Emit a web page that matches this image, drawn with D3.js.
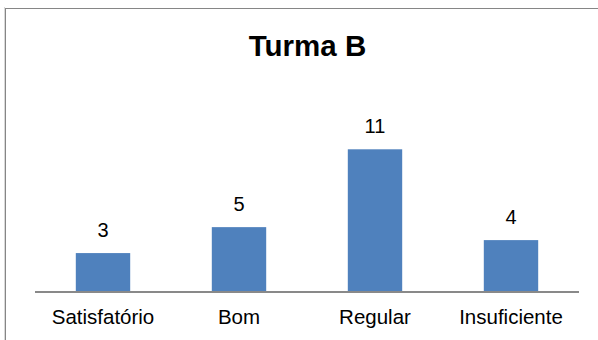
<!DOCTYPE html>
<html>
<head>
<meta charset="utf-8">
<script src="https://cdn.jsdelivr.net/npm/d3@7"></script>
<style>
  html, body { margin: 0; padding: 0; background: #fff; }
  svg { display: block; }
</style>
</head>
<body>
<svg id="chart" width="598" height="340"></svg>
<script>
// Turma B — distribution of grades
const title = "Turma B";
const categories = ["Satisfatório", "Bom", "Regular", "Insuficiente"];
const values = [3, 5, 11, 4];

const W = 598, H = 340;
const svg = d3.select("#chart");
const font = "Arial, 'Liberation Sans', Helvetica, sans-serif";

// chart frame (open on the right and bottom where it runs off the page)
svg.append("line").attr("x1", 4.5).attr("x2", 4.5).attr("y1", 7).attr("y2", H)
  .attr("stroke", "#d9d9d9").attr("stroke-width", 1);
svg.append("line").attr("x1", 5.5).attr("x2", W).attr("y1", 8.5).attr("y2", 8.5)
  .attr("stroke", "#868686").attr("stroke-width", 1);
svg.append("line").attr("x1", 5.5).attr("x2", 5.5).attr("y1", 8).attr("y2", H)
  .attr("stroke", "#868686").attr("stroke-width", 1);

// plot area
const plot = { left: 35, right: 579, base: 292 };

const x = d3.scaleBand().domain(categories).range([plot.left, plot.right]).padding(0);
const y = d3.scaleLinear().domain([0, 11]).range([plot.base, 149.3]);
const barW = x.bandwidth() * 0.4;

// title
svg.append("text")
  .attr("x", (plot.left + plot.right) / 2 + 0.5)
  .attr("y", 56)
  .attr("text-anchor", "middle")
  .attr("font-family", font)
  .attr("font-weight", "bold")
  .attr("font-size", 29.5)
  .attr("fill", "#000")
  .text(title);

// bars
svg.append("g").selectAll("rect")
  .data(values)
  .join("rect")
  .attr("x", (d, i) => x(categories[i]) + (x.bandwidth() - barW) / 2)
  .attr("y", d => y(d))
  .attr("width", barW)
  .attr("height", d => y(0) - y(d))
  .attr("fill", "#4f81bd");

// value labels
svg.append("g").selectAll("text")
  .data(values)
  .join("text")
  .attr("x", (d, i) => x(categories[i]) + x.bandwidth() / 2)
  .attr("y", d => y(d) - 16.5)
  .attr("text-anchor", "middle")
  .attr("font-family", font)
  .attr("font-size", 20)
  .attr("fill", "#000")
  .text(d => d);

// category axis
const axis = svg.append("g").attr("transform", `translate(0,${plot.base})`)
  .call(d3.axisBottom(x).tickSize(0).tickPadding(17));
axis.select(".domain").attr("stroke", "#898989").attr("stroke-width", 2).attr("d", `M${plot.left},0H${plot.right}`);
axis.selectAll("text")
  .attr("font-family", font)
  .attr("font-size", 20.5)
  .attr("fill", "#000");
</script>
</body>
</html>
